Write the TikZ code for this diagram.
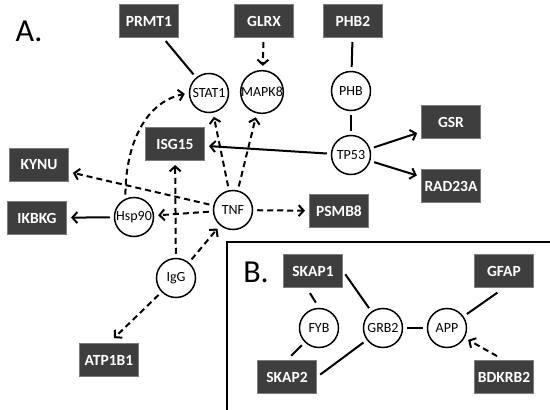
\documentclass[tikz,border=0pt]{standalone}
\usepackage{fontspec}
\setmainfont{Carlito}
\usetikzlibrary{arrows.meta}
\definecolor{boxgray}{RGB}{62,62,62}
\definecolor{boxedge}{RGB}{125,125,125}

\begin{document}
\begin{tikzpicture}[x=1pt, y=-1pt,
  gene/.style={draw, circle, line width=1.5pt, fill=white, minimum size=39pt, inner sep=0pt, font=\fontsize{14}{16}\selectfont},
  prot/.style={fill=boxgray, draw=boxedge, line width=1pt, minimum width=59pt, minimum height=33pt, text=white, font=\fontsize{15.5}{17}\selectfont\bfseries},
  panel/.style={font=\fontsize{32}{34}\selectfont},
  link/.style={line width=2pt, shorten <=4pt, shorten >=4pt},
  act/.style={link, -{Straight Barb[length=5pt, width=11pt]}},
  dact/.style={act, dash pattern=on 6pt off 4pt}]
\useasboundingbox (0,0) rectangle (550,410);

\node[panel] (labA) at (29,31) {A.};
\node[prot] (prmt1) at (149,21) {PRMT1};
\node[prot] (glrx) at (264,21) {GLRX};
\node[prot] (phb2) at (353,21) {PHB2};
\node[gene] (stat1) at (209,93) {STAT1};
\node[gene] (mapk8) at (262,92) {MAPK8};
\node[gene] (phb) at (351,91) {PHB};
\node[gene] (tp53) at (351,155) {TP53};
\node[prot] (gsr) at (451,122) {GSR};
\node[prot] (rad23a) at (451,186) {RAD23A};
\node[prot] (isg15) at (175,144) {ISG15};
\node[prot] (kynu) at (39,165) {KYNU};
\node[prot] (ikbkg) at (37,218) {IKBKG};
\node[gene] (hsp90) at (134,217) {Hsp90};
\node[gene] (tnf) at (233,210) {TNF};
\node[prot] (psmb8) at (339,211) {PSMB8};
\node[gene] (igg) at (176,278) {IgG};
\node[prot] (atp1b1) at (109,360) {ATP1B1};

\draw[link] (prmt1) -- (stat1);
\draw[dact] (glrx) -- (mapk8);
\draw[link] (phb2) -- (phb);
\draw[link] (phb) -- (tp53);
\draw[act] (tp53) -- (gsr);
\draw[act] (tp53) -- (rad23a);
\draw[act] (tp53) -- (isg15);
\draw[dact] (tnf) -- (stat1);
\draw[dact] (tnf) -- (mapk8);
\draw[dact] (tnf) -- (kynu);
\draw[dact] (tnf) -- (hsp90);
\draw[dact] (tnf) -- (psmb8);
\draw[act] (hsp90) -- (ikbkg);
\draw[dact] (hsp90.115) to[out=90, in=192] (stat1.west);
\draw[dact] (igg) -- (isg15);
\draw[dact] (igg) -- (tnf);
\draw[dact, shorten >=7pt] (igg) -- (atp1b1.north);

\draw[line width=2pt] (227,410) -- (227,242) -- (550,242);

\node[panel] (labB) at (256,272) {B.};
\node[prot] (skap1) at (313,271) {SKAP1};
\node[prot] (gfap) at (504,271) {GFAP};
\node[gene] (fyb) at (319,328) {FYB};
\node[gene] (grb2) at (383,328) {GRB2};
\node[gene] (app) at (447,328) {APP};
\node[prot] (skap2) at (287,377) {SKAP2};
\node[prot] (bdkrb2) at (504,377) {BDKRB2};

\draw[link, shorten <=6pt, shorten >=6pt] (skap1.250) -- (fyb.north);
\draw[link, shorten <=6pt] (skap2.north) -- (fyb);
\draw[link] (skap1.east) -- (grb2);
\draw[link] (skap2.east) -- (grb2);
\draw[link] (grb2) -- (app);
\draw[link, shorten <=8pt] (gfap.south) -- (app);
\draw[dact, shorten <=8pt] (bdkrb2.north) -- (app);

\end{tikzpicture}
\end{document}
